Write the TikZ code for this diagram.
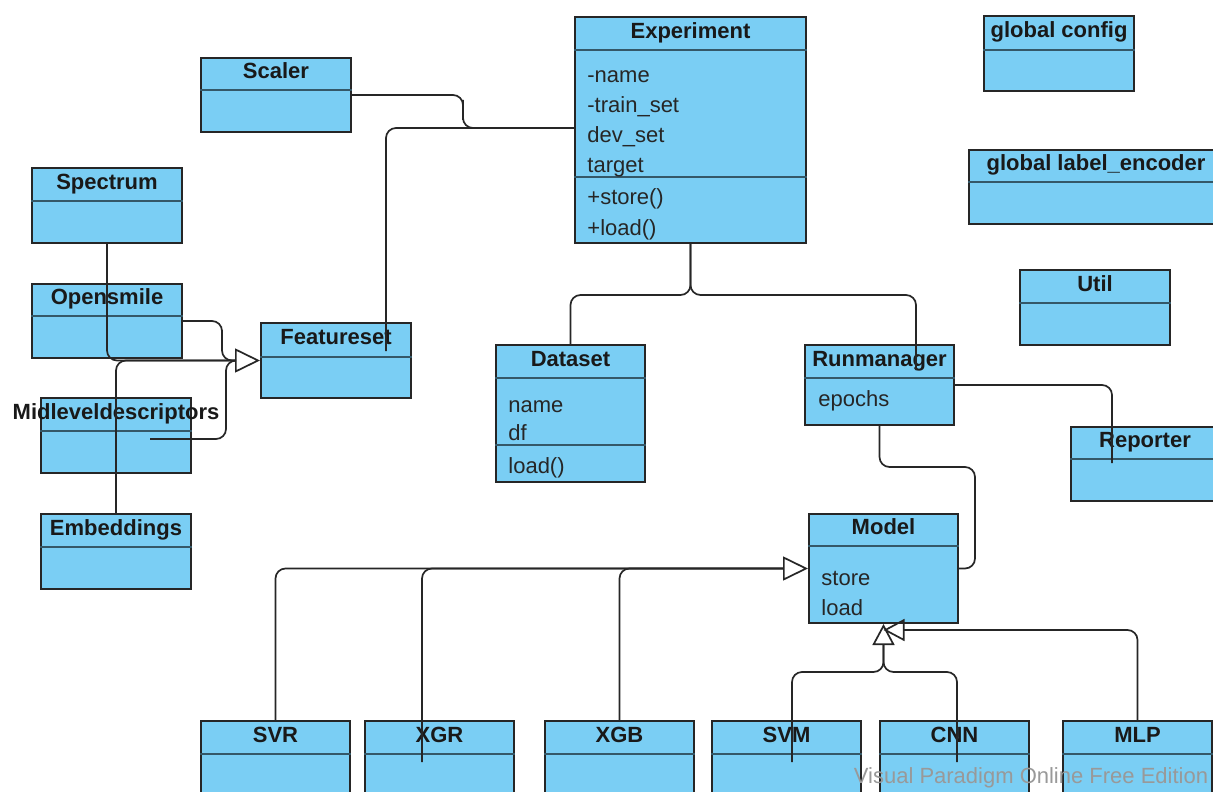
\documentclass[tikz,border=0pt]{standalone}
\usepackage{fontspec}
\setmainfont{Liberation Sans}
\usetikzlibrary{positioning,arrows.meta}
\definecolor{umlblue}{RGB}{122,206,244}
\definecolor{umlline}{RGB}{52,88,104}
\newcommand\umltitlefont{\fontsize{11}{13}\selectfont\bfseries}
\newcommand\umlattrfont{\fontsize{11}{13}\selectfont}

\begin{document}
\begin{tikzpicture}[x=0.5pt, y=-0.5pt, >=latex,
  umlbox/.style={draw=black!85, line width=1pt, fill=umlblue, anchor=north west, inner sep=0pt},
  umltitle/.style={font=\umltitlefont, text=black!90, inner sep=0pt, text height=8pt, text depth=2.5pt},
  umlattr/.style={font=\umlattrfont, text=black!85, inner sep=0pt, anchor=base west},
  umlsep/.style={draw=umlline, line width=1pt},
  conn/.style={draw=black!85, line width=0.85pt, rounded corners=5pt},
  gen/.style={conn, -{Triangle[open, length=12.5pt, width=12pt]}},
  gensmall/.style={conn, -{Triangle[open, length=10.5pt, width=11pt]}}]
\fill[white] (0,0) rectangle (1213,791);
\useasboundingbox (0,0) rectangle (1213,791);
\clip (0,0) rectangle (1213,791);

% feature side
\node[umlbox, minimum width=75pt, minimum height=37pt] (scaler) at (200,57) {};
\node[umltitle, minimum height=16pt, below=0pt of scaler.north] (scalerT) {Scaler};
\draw[umlsep] (scaler.west |- scalerT.south) -- (scaler.east |- scalerT.south);
\node[umlbox, minimum width=75pt, minimum height=37.5pt] (spectrum) at (31,167) {};
\node[umltitle, minimum height=16.5pt, below=0pt of spectrum.north] (spectrumT) {Spectrum};
\draw[umlsep] (spectrum.west |- spectrumT.south) -- (spectrum.east |- spectrumT.south);
\node[umlbox, minimum width=75pt, minimum height=37pt] (opensmile) at (31,283) {};
\node[umltitle, minimum height=16pt, below=0pt of opensmile.north] (opensmileT) {Opensmile};
\draw[umlsep] (opensmile.west |- opensmileT.south) -- (opensmile.east |- opensmileT.south);
\node[umlbox, minimum width=75pt, minimum height=37.5pt] (featureset) at (260,322) {};
\node[umltitle, minimum height=17pt, below=0pt of featureset.north] (featuresetT) {Featureset};
\draw[umlsep] (featureset.west |- featuresetT.south) -- (featureset.east |- featuresetT.south);
\node[umlbox, minimum width=75pt, minimum height=37.5pt] (midlevel) at (40,397) {};
\node[umltitle, minimum height=16.5pt, below=0pt of midlevel.north] (midlevelT) {Midleveldescriptors};
\draw[umlsep] (midlevel.west |- midlevelT.south) -- (midlevel.east |- midlevelT.south);
\node[umlbox, minimum width=75pt, minimum height=37.5pt] (embeddings) at (40,513) {};
\node[umltitle, minimum height=16.5pt, below=0pt of embeddings.north] (embeddingsT) {Embeddings};
\draw[umlsep] (embeddings.west |- embeddingsT.south) -- (embeddings.east |- embeddingsT.south);

% experiment, data, run
\node[umlbox, minimum width=115.5pt, minimum height=113pt] (experiment) at (574,16) {};
\node[umltitle, minimum height=16.5pt, below=0pt of experiment.north] (experimentT) {Experiment};
\draw[umlsep] (experiment.west |- experimentT.south) -- (experiment.east |- experimentT.south);
\draw[umlsep] (experiment.west |- 0,177) -- (experiment.east |- 0,177);
\node[umlattr] (expname) at (587,83) {-name};
\node[umlattr] (exptrain) at (587,113) {-train\_set};
\node[umlattr] (expdev) at (587,143) {dev\_set};
\node[umlattr] (exptarget) at (587,173) {target};
\node[umlattr] (expstore) at (587,205) {+store()};
\node[umlattr] (expload) at (587,235) {+load()};
\node[umlbox, minimum width=74.5pt, minimum height=68.5pt] (dataset) at (495,344) {};
\node[umltitle, minimum height=16.5pt, below=0pt of dataset.north] (datasetT) {Dataset};
\draw[umlsep] (dataset.west |- datasetT.south) -- (dataset.east |- datasetT.south);
\draw[umlsep] (dataset.west |- 0,445) -- (dataset.east |- 0,445);
\node[umlattr] (dsname) at (508,412) {name};
\node[umlattr] (dsdf) at (508,440) {df};
\node[umlattr] (dsload) at (508,473) {load()};
\node[umlbox, minimum width=74.5pt, minimum height=40pt] (runmanager) at (804,344) {};
\node[umltitle, minimum height=16.5pt, below=0pt of runmanager.north] (runmanagerT) {Runmanager};
\draw[umlsep] (runmanager.west |- runmanagerT.south) -- (runmanager.east |- runmanagerT.south);
\node[umlattr] (rmepochs) at (818,406) {epochs};
\node[umlbox, minimum width=74.5pt, minimum height=54.5pt] (model) at (808,513) {};
\node[umltitle, minimum height=16pt, below=0pt of model.north] (modelT) {Model};
\draw[umlsep] (model.west |- modelT.south) -- (model.east |- modelT.south);
\node[umlattr] (mdstore) at (821,585) {store};
\node[umlattr] (mdload) at (821,615) {load};

% globals
\node[umlbox, minimum width=75pt, minimum height=37.5pt] (gconfig) at (983,15) {};
\node[umltitle, minimum height=17pt, below=0pt of gconfig.north] (gconfigT) {global config};
\draw[umlsep] (gconfig.west |- gconfigT.south) -- (gconfig.east |- gconfigT.south);
\node[umlbox, minimum width=127pt, minimum height=37pt] (glabel) at (968,149) {};
\node[umltitle, minimum height=16pt, below=0pt of glabel.north] (glabelT) {global label\_encoder};
\draw[umlsep] (glabel.west |- glabelT.south) -- (glabel.east |- glabelT.south);
\node[umlbox, minimum width=75pt, minimum height=37.5pt] (util) at (1019,269) {};
\node[umltitle, minimum height=16.5pt, below=0pt of util.north] (utilT) {Util};
\draw[umlsep] (util.west |- utilT.south) -- (util.east |- utilT.south);
\node[umlbox, minimum width=74pt, minimum height=37pt] (reporter) at (1070,426) {};
\node[umltitle, minimum height=16pt, below=0pt of reporter.north] (reporterT) {Reporter};
\draw[umlsep] (reporter.west |- reporterT.south) -- (reporter.east |- reporterT.south);

% model subclasses
\node[umlbox, minimum width=74.5pt, minimum height=40pt] (svr) at (200,720) {};
\node[umltitle, minimum height=16.5pt, below=0pt of svr.north] (svrT) {SVR};
\draw[umlsep] (svr.west |- svrT.south) -- (svr.east |- svrT.south);
\node[umlbox, minimum width=74.5pt, minimum height=40pt] (xgr) at (364,720) {};
\node[umltitle, minimum height=16.5pt, below=0pt of xgr.north] (xgrT) {XGR};
\draw[umlsep] (xgr.west |- xgrT.south) -- (xgr.east |- xgrT.south);
\node[umlbox, minimum width=74.5pt, minimum height=40pt] (xgb) at (544,720) {};
\node[umltitle, minimum height=16.5pt, below=0pt of xgb.north] (xgbT) {XGB};
\draw[umlsep] (xgb.west |- xgbT.south) -- (xgb.east |- xgbT.south);
\node[umlbox, minimum width=74.5pt, minimum height=40pt] (svm) at (711,720) {};
\node[umltitle, minimum height=16.5pt, below=0pt of svm.north] (svmT) {SVM};
\draw[umlsep] (svm.west |- svmT.south) -- (svm.east |- svmT.south);
\node[umlbox, minimum width=74.5pt, minimum height=40pt] (cnn) at (879,720) {};
\node[umltitle, minimum height=16.5pt, below=0pt of cnn.north] (cnnT) {CNN};
\draw[umlsep] (cnn.west |- cnnT.south) -- (cnn.east |- cnnT.south);
\node[umlbox, minimum width=74.5pt, minimum height=40pt] (mlp) at (1062,720) {};
\node[umltitle, minimum height=16.5pt, below=0pt of mlp.north] (mlpT) {MLP};
\draw[umlsep] (mlp.west |- mlpT.south) -- (mlp.east |- mlpT.south);

% connectors
\draw[conn] (scaler.east) -| (463,110) |- (experiment.west |- 0,128);
\draw[conn] ([xshift=63pt,yshift=-14.5pt]featureset.north west) |- (experiment.west |- 0,128);
\coordinate (fsarrow) at ([xshift=-12.5pt]featureset.west);
\draw[gen] (spectrum.south) |- (featureset.west);
\draw[conn] (opensmile.east) -| (222,340) |- (fsarrow);
\draw[conn] ([xshift=55pt,yshift=-21pt]midlevel.north west) -| (226,400) |- (fsarrow);
\draw[conn] (embeddings.north) |- (fsarrow);
\draw[conn] (experiment.south) -- ++(0,51) -| (dataset.north);
\draw[conn] (experiment.south) -- ++(0,51) -| ([xshift=56pt,yshift=-13pt]runmanager.north west);
\draw[conn] (runmanager.east) -| ([xshift=21pt,yshift=-18.5pt]reporter.north west);
\draw[conn] (runmanager.south) |- (975,467) |- (model.east);
\coordinate (mdarrow) at ([xshift=-12.5pt]model.west);
\draw[gen] (svr.north) |- (model.west);
\draw[conn] ([xshift=29pt,yshift=-21pt]xgr.north west) |- (mdarrow);
\draw[conn] (xgb.north) |- (mdarrow);
\draw[gensmall] ([xshift=40.5pt,yshift=-21pt]svm.north west) |- (840,672) -| (model.south);
\draw[conn] ([xshift=39pt,yshift=-21pt]cnn.north west) |- (920,672) -| ([yshift=-10.5pt]model.south);
\draw[gensmall] (mlp.north) |- ([yshift=-3pt]model.south);

\node[font=\umlattrfont, text=black!40] (watermark) at (1031,778) {Visual Paradigm Online Free Edition};
\end{tikzpicture}
\end{document}
